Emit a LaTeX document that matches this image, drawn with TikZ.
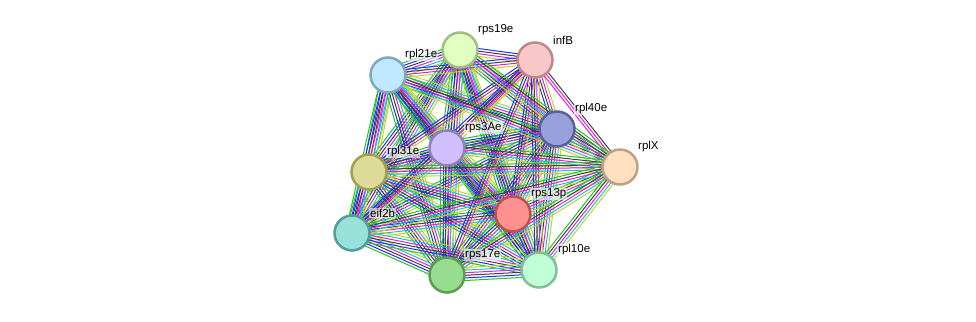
\documentclass[tikz,border=0pt]{standalone}
\usepackage{fontspec}
\setmainfont{Liberation Sans}
\usetikzlibrary{calc}
\pgfdeclarelayer{background}
\pgfsetlayers{background,main}
\definecolor{cG}{HTML}{22C422}
\definecolor{cB}{HTML}{2A2AFF}
\definecolor{cK}{HTML}{404040}
\definecolor{cM}{HTML}{DD22DD}
\definecolor{cC}{HTML}{22BBDD}
\definecolor{cY}{HTML}{C2D22A}
\def\full{cG/-6.5,cB/-3.9,cK/-1.3,cM/1.3,cC/3.9,cY/6.5}
\def\setIB{cB/-3.9,cK/-1.3,cM/1.3,cY/3.9}
\def\setX{cG/-5.2,cK/-2.6,cM/0,cC/2.6,cY/5.2}
\def\setIBX{cM/-2.6,cM/0,cK/2.6}
\newcommand\edg[3]{%
  \foreach \c/\o in #3 {%
    \draw[color=\c, line width=1pt] ($(#1)!\o pt!90:(#2)$) -- ($(#2)!\o pt!-90:(#1)$);
  }}
\tikzset{
  nd/.style={circle, minimum size=35pt, inner sep=0pt, line width=2.5pt},
  lbl/.style={anchor=west, font=\fontsize{11.5}{12}\selectfont, inner sep=1pt,
     fill=white, fill opacity=0.6, text opacity=1}
}
\begin{document}
\begin{tikzpicture}[x=1pt,y=-1pt]
\useasboundingbox (0,0) rectangle (976,321);
\node[nd, fill={rgb,255:red,224;green,255;blue,192}, draw={rgb,255:red,160;green,192;blue,128}] (n19) at (460,50) {};
\node[nd, fill={rgb,255:red,248;green,200;blue,200}, draw={rgb,255:red,192;green,136;blue,136}] (nIB) at (535,60) {};
\node[nd, fill={rgb,255:red,192;green,232;blue,255}, draw={rgb,255:red,128;green,168;blue,192}] (n21) at (388,75) {};
\node[nd, fill={rgb,255:red,152;green,160;blue,220}, draw={rgb,255:red,88;green,96;blue,160}] (n40) at (557,129) {};
\node[nd, fill={rgb,255:red,255;green,224;blue,192}, draw={rgb,255:red,192;green,160;blue,128}] (nX) at (620,167) {};
\node[nd, fill={rgb,255:red,208;green,192;blue,255}, draw={rgb,255:red,144;green,128;blue,192}] (n3A) at (447,148) {};
\node[nd, fill={rgb,255:red,220;green,220;blue,152}, draw={rgb,255:red,160;green,160;blue,80}] (n31) at (369,172) {};
\node[nd, fill={rgb,255:red,255;green,144;blue,144}, draw={rgb,255:red,192;green,80;blue,80}] (n13) at (513,214) {};
\node[nd, fill={rgb,255:red,152;green,224;blue,216}, draw={rgb,255:red,80;green,160;blue,152}] (nE) at (352,233) {};
\node[nd, fill={rgb,255:red,152;green,220;blue,144}, draw={rgb,255:red,88;green,160;blue,80}] (n17) at (447,275) {};
\node[nd, fill={rgb,255:red,192;green,255;blue,216}, draw={rgb,255:red,128;green,192;blue,152}] (n10) at (539,270) {};
\begin{pgfonlayer}{background}
% ribosomal pairs
\edg{n19}{n21}{\full}
\edg{n19}{n40}{\full}
\edg{n19}{n3A}{\full}
\edg{n19}{n31}{\full}
\edg{n19}{n13}{\full}
\edg{n19}{nE}{\full}
\edg{n19}{n17}{\full}
\edg{n19}{n10}{\full}
\edg{n21}{n40}{\full}
\edg{n21}{n3A}{\full}
\edg{n21}{n31}{\full}
\edg{n21}{n13}{\full}
\edg{n21}{nE}{\full}
\edg{n21}{n17}{\full}
\edg{n21}{n10}{\full}
\edg{n40}{n3A}{\full}
\edg{n40}{n31}{\full}
\edg{n40}{n13}{\full}
\edg{n40}{nE}{\full}
\edg{n40}{n17}{\full}
\edg{n40}{n10}{\full}
\edg{n3A}{n31}{\full}
\edg{n3A}{n13}{\full}
\edg{n3A}{nE}{\full}
\edg{n3A}{n17}{\full}
\edg{n3A}{n10}{\full}
\edg{n31}{n13}{\full}
\edg{n31}{nE}{\full}
\edg{n31}{n17}{\full}
\edg{n31}{n10}{\full}
\edg{n13}{nE}{\full}
\edg{n13}{n17}{\full}
\edg{n13}{n10}{\full}
\edg{nE}{n17}{\full}
\edg{nE}{n10}{\full}
\edg{n17}{n10}{\full}
% infB
\edg{nIB}{n19}{\setIB}
\edg{nIB}{n21}{\setIB}
\edg{nIB}{n40}{\setIB}
\edg{nIB}{n3A}{\setIB}
\edg{nIB}{n31}{\setIB}
\edg{nIB}{n13}{\setIB}
\edg{nIB}{nE}{\setIB}
\edg{nIB}{n17}{\setIB}
\edg{nIB}{n10}{\setIB}
\edg{nIB}{nX}{\setIBX}
% rplX
\edg{nX}{n19}{\setX}
\edg{nX}{n21}{\setX}
\edg{nX}{n40}{\setX}
\edg{nX}{n3A}{\setX}
\edg{nX}{n31}{\setX}
\edg{nX}{n13}{\setX}
\edg{nX}{nE}{\setX}
\edg{nX}{n17}{\setX}
\edg{nX}{n10}{\setX}
\end{pgfonlayer}
\node[lbl] (l19) at ($(n19)+(17,-20)$) {rps19e};
\node[lbl] (lIB) at ($(nIB)+(17,-20)$) {infB};
\node[lbl] (l21) at ($(n21)+(16,-20)$) {rpl21e};
\node[lbl] (l40) at ($(n40)+(17,-20)$) {rpl40e};
\node[lbl] (lX) at ($(nX)+(17,-20)$) {rplX};
\node[lbl] (l3A) at ($(n3A)+(17,-20)$) {rps3Ae};
\node[lbl] (l31) at ($(n31)+(17,-20)$) {rpl31e};
\node[lbl] (l13) at ($(n13)+(17,-20)$) {rps13p};
\node[lbl] (lE) at ($(nE)+(17,-20)$) {eif2b};
\node[lbl] (l17) at ($(n17)+(17,-20)$) {rps17e};
\node[lbl] (l10) at ($(n10)+(18,-20)$) {rpl10e};
\end{tikzpicture}
\end{document}
